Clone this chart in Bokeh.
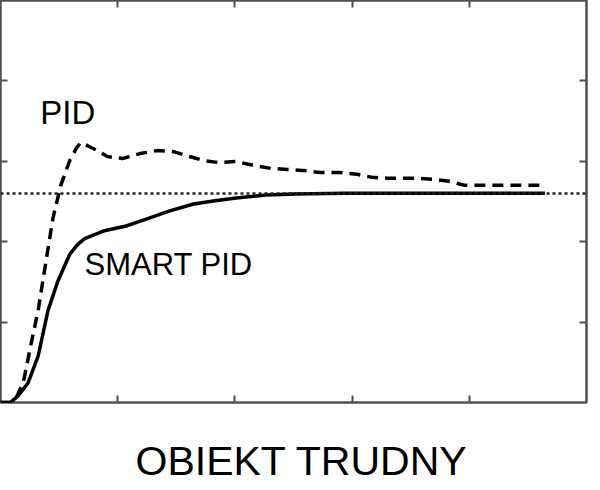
from bokeh.plotting import figure
from bokeh.models import Range1d, LinearAxis, FixedTicker, Span, Label, Title, CustomJSTickFormatter
from bokeh.embed import file_html
from bokeh.resources import INLINE

# --- data (time units, response units) ---
ticks = [1, 2, 3, 4]
setpoint = 2.60

pid_t = [0.0, 0.084, 0.135, 0.194, 0.211, 0.262, 0.321, 0.380, 0.448, 0.515, 0.591,
         0.650, 0.684, 0.743, 0.828, 0.912, 1.039, 1.191, 1.334, 1.478, 1.613, 1.731,
         1.858, 2.010, 2.162, 2.306, 2.449, 2.576, 2.728, 2.880, 3.041, 3.167, 3.302,
         3.446, 3.573, 3.699, 3.826, 3.953, 4.122, 4.291, 4.459, 4.645]
pid_y = [0.0, 0.0, 0.061, 0.246, 0.369, 0.737, 1.143, 1.683, 2.297, 2.703, 3.010,
         3.170, 3.231, 3.194, 3.133, 3.059, 3.034, 3.096, 3.133, 3.120, 3.059, 3.010,
         2.985, 2.998, 2.948, 2.912, 2.899, 2.887, 2.862, 2.862, 2.838, 2.801, 2.789,
         2.789, 2.789, 2.776, 2.752, 2.703, 2.703, 2.703, 2.703, 2.703]

smart_t = [0.0, 0.084, 0.152, 0.236, 0.321, 0.405, 0.490, 0.591, 0.659, 0.718, 0.887,
           1.081, 1.250, 1.444, 1.647, 1.816, 2.010, 2.264, 2.517, 2.939, 4.645]
smart_y = [0.0, 0.0, 0.086, 0.246, 0.577, 1.143, 1.511, 1.843, 1.966, 2.039, 2.137,
           2.199, 2.285, 2.383, 2.469, 2.506, 2.543, 2.580, 2.592, 2.604, 2.604]

FONT = "Liberation Sans"
FRAME = "#505050"

p = figure(frame_width=586, frame_height=402, output_backend="svg",
           toolbar_location=None, x_axis_type=None, y_axis_type=None,
           x_range=Range1d(0, 5), y_range=Range1d(0, 5),
           min_border=0, min_border_right=4)
p.xgrid.visible = False
p.ygrid.visible = False
p.outline_line_color = FRAME
p.outline_line_width = 2.5
p.background_fill_color = "white"
p.border_fill_color = "white"

for place in ["below", "above", "left", "right"]:
    ax = LinearAxis(ticker=FixedTicker(ticks=ticks),
                    formatter=CustomJSTickFormatter(code="return ''"))
    ax.axis_line_color = None
    ax.major_tick_in = 7
    ax.major_tick_out = 0
    ax.minor_tick_line_color = None
    ax.major_tick_line_color = FRAME
    ax.major_tick_line_width = 2
    ax.major_label_text_font_size = "1px"
    ax.major_label_standoff = 0
    p.add_layout(ax, place)

p.add_layout(Span(location=setpoint, dimension="width", line_color="#222222",
                  line_width=2.5, line_dash="3 3"))

p.line(pid_t, pid_y, line_color="black", line_width=3.5, line_dash="11 7")
p.line(smart_t, smart_y, line_color="black", line_width=3.5)

p.add_layout(Label(x=0.34, y=3.38, text="PID", text_font=FONT,
                   text_font_size="33px", text_color="black"))
p.add_layout(Label(x=0.717, y=1.50, text="SMART PID", text_font=FONT,
                   text_font_size="31px", text_color="black"))

p.add_layout(Title(text="OBIEKT TRUDNY", text_font=FONT, text_font_size="41px",
                   text_font_style="normal", text_color="black", align="left",
                   offset=135, standoff=66), "below")

open("out.html", "w").write(file_html(p, INLINE))
